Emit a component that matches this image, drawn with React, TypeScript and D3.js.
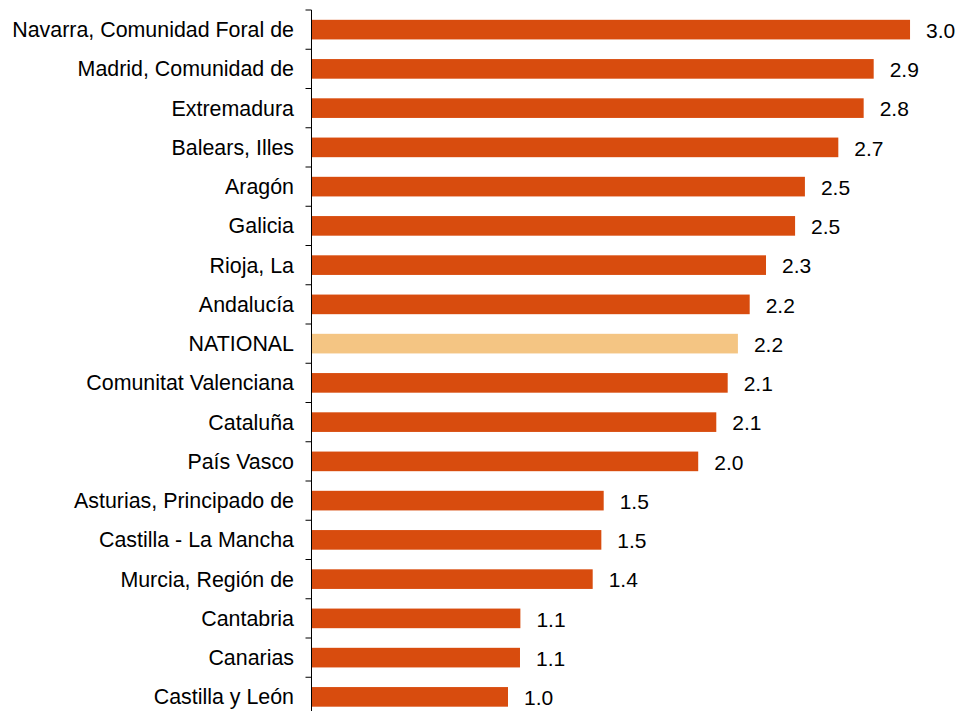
import React from "react";
import * as d3 from "d3";

const categories = [
  "Navarra, Comunidad Foral de",
  "Madrid, Comunidad de",
  "Extremadura",
  "Balears, Illes",
  "Aragón",
  "Galicia",
  "Rioja, La",
  "Andalucía",
  "NATIONAL",
  "Comunitat Valenciana",
  "Cataluña",
  "País Vasco",
  "Asturias, Principado de",
  "Castilla - La Mancha",
  "Murcia, Región de",
  "Cantabria",
  "Canarias",
  "Castilla y León",
];

const values = [
  3.046, 2.861, 2.81, 2.681, 2.511, 2.461, 2.313, 2.23, 2.17, 2.118, 2.06,
  1.968, 1.487, 1.475, 1.431, 1.063, 1.061, 1.0,
];

const labels = [
  "3.0", "2.9", "2.8", "2.7", "2.5", "2.5", "2.3", "2.2", "2.2", "2.1",
  "2.1", "2.0", "1.5", "1.5", "1.4", "1.1", "1.1", "1.0",
];

const highlight = "NATIONAL";

const W = 957;
const H = 711;
const AXIS_X = 311.5;
const TOP = 10;
const STEP = 39.25;

export default function App() {
  const x = d3.scaleLinear().domain([0, 3]).range([AXIS_X, AXIS_X + 589.5]);
  const y = d3
    .scaleBand<string>()
    .domain(categories)
    .range([TOP, TOP + STEP * categories.length])
    .paddingInner(0.5)
    .paddingOuter(0.25);
  const bw = y.bandwidth();
  const step = y.step();
  const font = "'Liberation Sans', Arial, sans-serif";

  return (
    <svg
      width={W}
      height={H}
      style={{ position: "absolute", left: 0, top: 0, background: "#fff" }}
    >
      {categories.map((c, i) => {
        const yy = y(c)!;
        const v = values[i];
        return (
          <g key={c}>
            <rect
              x={x(0)}
              y={yy}
              width={x(v) - x(0)}
              height={bw}
              fill={c === highlight ? "#F4C583" : "#D84C0E"}
            />
            <text
              x={x(v) + 16}
              y={yy + bw / 2 + 8.3}
              fontFamily={font}
              fontSize={21}
              fill="#000"
            >
              {labels[i]}
            </text>
            <text
              x={294}
              y={yy + bw / 2 + 7.6}
              textAnchor="end"
              fontFamily={font}
              fontSize={21.4}
              fill="#000"
            >
              {c}
            </text>
          </g>
        );
      })}
      {d3.range(categories.length + 1).map((i) => (
        <line
          key={i}
          x1={AXIS_X - 6}
          x2={AXIS_X}
          y1={TOP + i * step}
          y2={TOP + i * step}
          stroke="#000"
          strokeWidth={1}
        />
      ))}
      <line
        x1={AXIS_X}
        x2={AXIS_X}
        y1={TOP}
        y2={TOP + step * categories.length}
        stroke="#000"
        strokeWidth={1}
      />
    </svg>
  );
}
